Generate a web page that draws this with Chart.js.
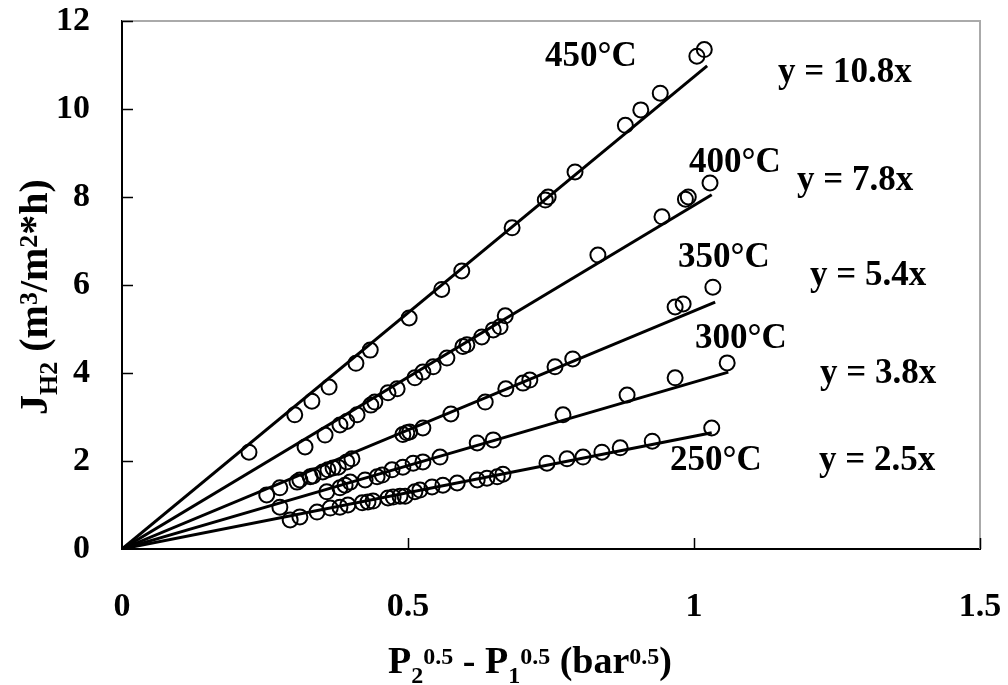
<!DOCTYPE html>
<html>
<head>
<meta charset="utf-8">
<script src="https://cdn.jsdelivr.net/npm/chart.js@4.4.0/dist/chart.umd.min.js"></script>
<style>
  html, body { margin: 0; padding: 0; background: #fff; }
  #wrap { width: 1008px; height: 685px; }
</style>
</head>
<body>
<div id="wrap"><canvas id="fluxChart"></canvas></div>
<script>
// measured flux vs driving force, one pair of arrays per temperature
const x450 = [0.222, 0.302, 0.332, 0.362, 0.409, 0.434, 0.502, 0.559, 0.594, 0.682, 0.74, 0.745, 0.792, 0.88, 0.907, 0.941, 1.005, 1.018];
const y450 = [2.2, 3.05, 3.36, 3.68, 4.22, 4.52, 5.25, 5.9, 6.32, 7.3, 7.93, 8.0, 8.57, 9.63, 9.98, 10.36, 11.2, 11.35];

const x400 = [0.32, 0.355, 0.381, 0.393, 0.411, 0.435, 0.442, 0.465, 0.481, 0.512, 0.526, 0.544, 0.568, 0.596, 0.603, 0.629, 0.649, 0.661, 0.67, 0.832, 0.944, 0.985, 0.99, 1.028];
const y400 = [2.32, 2.59, 2.82, 2.9, 3.05, 3.27, 3.34, 3.55, 3.64, 3.89, 4.02, 4.14, 4.34, 4.6, 4.64, 4.82, 4.98, 5.05, 5.3, 6.68, 7.55, 7.95, 8.0, 8.32];

const x350 = [0.253, 0.276, 0.306, 0.311, 0.329, 0.334, 0.351, 0.36, 0.369, 0.378, 0.393, 0.402, 0.491, 0.498, 0.503, 0.526, 0.575, 0.635, 0.671, 0.701, 0.713, 0.757, 0.788, 0.967, 0.981, 1.033];
const y350 = [1.23, 1.39, 1.52, 1.57, 1.64, 1.66, 1.75, 1.8, 1.84, 1.86, 1.98, 2.05, 2.6, 2.64, 2.66, 2.75, 3.07, 3.34, 3.64, 3.77, 3.84, 4.14, 4.32, 5.5, 5.57, 5.95];

const x300 = [0.276, 0.358, 0.381, 0.39, 0.399, 0.425, 0.446, 0.455, 0.472, 0.491, 0.509, 0.526, 0.556, 0.621, 0.649, 0.771, 0.883, 0.967, 1.058];
const y300 = [0.95, 1.3, 1.39, 1.45, 1.52, 1.57, 1.64, 1.68, 1.8, 1.86, 1.95, 1.98, 2.09, 2.41, 2.48, 3.05, 3.5, 3.89, 4.23];

const x250 = [0.294, 0.311, 0.341, 0.364, 0.381, 0.395, 0.42, 0.43, 0.439, 0.465, 0.474, 0.486, 0.495, 0.512, 0.521, 0.542, 0.561, 0.586, 0.621, 0.638, 0.656, 0.666, 0.743, 0.778, 0.806, 0.839, 0.871, 0.927, 1.031];
const y250 = [0.66, 0.73, 0.84, 0.93, 0.95, 1.0, 1.05, 1.07, 1.09, 1.16, 1.18, 1.2, 1.2, 1.3, 1.34, 1.41, 1.45, 1.5, 1.57, 1.61, 1.64, 1.7, 1.95, 2.05, 2.09, 2.2, 2.3, 2.45, 2.75];

// fitted lines through the origin, end points
const fitEndX = [1.023, 1.031, 1.037, 1.06, 1.031];
const fitEndY = [10.98, 8.05, 5.61, 4.02, 2.64];
const tempLabels = ["450°C", "400°C", "350°C", "300°C", "250°C"];
const fitEquations = ["y = 10.8x", "y = 7.8x", "y = 5.4x", "y = 3.8x", "y = 2.5x"];

const xTicks = [0, 0.5, 1, 1.5];
const xTickLabels = ["0", "0.5", "1", "1.5"];
const yTicks = [0, 2, 4, 6, 8, 10, 12];

const SERIF = '"Liberation Serif", "Times New Roman", serif';

const pointSets = [[x450, y450], [x400, y400], [x350, y350], [x300, y300], [x250, y250]];

const datasets = [];
pointSets.forEach(([xs, ys], i) => {
    datasets.push({
        label: tempLabels[i],
        data: xs.map((x, k) => ({ x, y: ys[k] })),
        showLine: false,
        pointStyle: "circle",
        pointRadius: 7.5,
        pointBorderWidth: 2,
        pointBorderColor: "#000",
        pointBackgroundColor: "rgba(0,0,0,0)"
    });
});
fitEndX.forEach((xe, i) => {
    datasets.push({
        label: fitEquations[i],
        data: [{ x: 0, y: 0 }, { x: xe, y: fitEndY[i] }],
        showLine: true,
        borderColor: "#000",
        borderWidth: 3,
        pointRadius: 0
    });
});

// text with sub/superscripts, parts are [text, kind]
function richWidth(ctx, parts, size, small) {
    let w = 0;
    parts.forEach(([t, kind]) => {
        ctx.font = "bold " + (kind === "n" ? size : small) + "px " + SERIF;
        w += ctx.measureText(t).width;
    });
    return w;
}

function drawRich(ctx, parts, x, y, size, small) {
    let cx = x;
    parts.forEach(([t, kind]) => {
        ctx.font = "bold " + (kind === "n" ? size : small) + "px " + SERIF;
        let dy = 0;
        if (kind === "sub") dy = size * 0.25;
        if (kind === "sup") dy = -size * 0.25;
        ctx.fillText(t, cx, y + dy);
        cx += ctx.measureText(t).width;
    });
}

const xTitle = [["P", "n"], ["2", "sub"], ["0.5", "sup"], [" - P", "n"], ["1", "sub"], ["0.5", "sup"], [" (bar", "n"], ["0.5", "sup"], [")", "n"]];
const yTitle = [["J", "n"], ["H2", "sub"], [" (m", "n"], ["3", "sup"], ["/m", "n"], ["2", "sup"], ["*h)", "n"]];

// where the temperature and equation labels sit (left x, baseline y)
const labelPos = [[545, 66], [689, 172], [678, 267], [695, 348], [670, 470]];
const eqPos = [[778, 82], [797, 190], [810, 285], [820, 383], [819, 470]];

const decorPlugin = {
    id: "decor",
    afterDraw(chart) {
        const ctx = chart.ctx;
        const a = chart.chartArea;
        const xs = chart.scales.x, ys = chart.scales.y;
        ctx.save();

        // light frame on top and right
        ctx.strokeStyle = "#aaaaaa";
        ctx.lineWidth = 2;
        ctx.beginPath();
        ctx.moveTo(a.left, a.top);
        ctx.lineTo(a.right, a.top);
        ctx.lineTo(a.right, a.bottom);
        ctx.stroke();

        // inward tick marks
        ctx.strokeStyle = "#000";
        ctx.lineWidth = 1.5;
        ctx.beginPath();
        yTicks.forEach(v => {
            if (v === 0) return;
            const py = Math.round(ys.getPixelForValue(v)) + 0.5;
            ctx.moveTo(a.left, py);
            ctx.lineTo(a.left + 11, py);
        });
        xTicks.forEach(v => {
            if (v === 0) return;
            const px = Math.round(xs.getPixelForValue(v)) + 0.5;
            ctx.moveTo(px, a.bottom);
            ctx.lineTo(px, a.bottom - 11);
        });
        ctx.stroke();

        ctx.fillStyle = "#000";
        ctx.textBaseline = "alphabetic";
        ctx.textAlign = "left";
        ctx.font = "bold 35px " + SERIF;
        tempLabels.forEach((t, i) => ctx.fillText(t, labelPos[i][0], labelPos[i][1]));
        fitEquations.forEach((t, i) => ctx.fillText(t, eqPos[i][0], eqPos[i][1]));

        // x axis title
        const wx = richWidth(ctx, xTitle, 38, 24);
        drawRich(ctx, xTitle, 530 - wx / 2, 673, 38, 24);

        // y axis title, rotated
        const wy = richWidth(ctx, yTitle, 40, 26);
        ctx.translate(47, 297);
        ctx.rotate(-Math.PI / 2);
        drawRich(ctx, yTitle, -wy / 2, 0, 40, 26);
        ctx.restore();
    }
};

new Chart(document.getElementById("fluxChart"), {
    type: "scatter",
    data: { datasets },
    options: {
        responsive: true,
        maintainAspectRatio: false,
        animation: false,
        layout: { padding: { top: 21, right: 28, left: 0, bottom: 0 } },
        plugins: {
            legend: { display: false },
            tooltip: { enabled: false }
        },
        scales: {
            x: {
                type: "linear",
                min: 0,
                max: 1.5,
                afterFit(scale) {
                    scale.height = 136;
                    scale.paddingLeft = 0;
                    scale.paddingRight = 0;
                },
                afterBuildTicks(scale) { scale.ticks = xTicks.map(v => ({ value: v })); },
                grid: { display: false, drawTicks: false },
                border: { display: true, color: "#000", width: 2 },
                ticks: {
                    color: "#000",
                    padding: 38,
                    font: { family: SERIF, size: 34, weight: "bold" },
                    callback: (v, i) => xTickLabels[i]
                }
            },
            y: {
                min: 0,
                max: 12,
                afterFit(scale) {
                    scale.width = 122;
                    scale.paddingTop = 0;
                    scale.paddingBottom = 0;
                },
                afterBuildTicks(scale) { scale.ticks = yTicks.map(v => ({ value: v })); },
                grid: { display: false, drawTicks: false },
                border: { display: true, color: "#000", width: 2 },
                ticks: {
                    color: "#000",
                    padding: 32,
                    font: { family: SERIF, size: 34, weight: "bold" }
                }
            }
        }
    },
    plugins: [decorPlugin]
});
</script>
</body>
</html>
